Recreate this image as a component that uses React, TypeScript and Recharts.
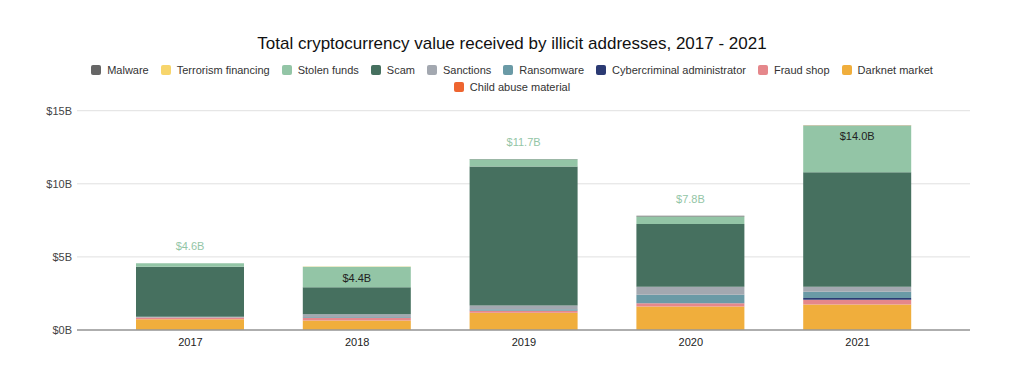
import { BarChart, Bar, XAxis, YAxis, CartesianGrid, LabelList } from 'recharts';

// stacked from bottom to top
const years = ['2017', '2018', '2019', '2020', '2021'];
const childAbuse = [0.003, 0.004, 0.005, 0.006, 0.006];
const darknet = [0.73, 0.64, 1.18, 1.6, 1.73];
const fraudShop = [0.12, 0.2, 0.13, 0.22, 0.33];
const cyberAdmin = [0.0, 0.0, 0.01, 0.01, 0.12];
const ransomware = [0.02, 0.05, 0.1, 0.57, 0.43];
const sanctions = [0.03, 0.18, 0.25, 0.55, 0.35];
const scam = [3.43, 1.85, 9.5, 4.3, 7.83];
const stolen = [0.23, 1.41, 0.51, 0.5, 3.18];
const terrorism = [0.001, 0.001, 0.001, 0.005, 0.005];
const malware = [0.005, 0.005, 0.01, 0.05, 0.02];
const totalLabels = ['$4.6B', '$4.4B', '$11.7B', '$7.8B', '$14.0B'];
const yTicks = [0, 5, 10, 15];

const series = [
    { key: 'childAbuse', name: 'Child abuse material', color: '#ee6530', values: childAbuse },
    { key: 'darknet', name: 'Darknet market', color: '#f0ae3c', values: darknet },
    { key: 'fraudShop', name: 'Fraud shop', color: '#e5878b', values: fraudShop },
    { key: 'cyberAdmin', name: 'Cybercriminal administrator', color: '#2b3a73', values: cyberAdmin },
    { key: 'ransomware', name: 'Ransomware', color: '#6a9aa6', values: ransomware },
    { key: 'sanctions', name: 'Sanctions', color: '#a3a8b0', values: sanctions },
    { key: 'scam', name: 'Scam', color: '#46705f', values: scam },
    { key: 'stolen', name: 'Stolen funds', color: '#93c5a6', values: stolen },
    { key: 'terrorism', name: 'Terrorism financing', color: '#f7d56c', values: terrorism },
    { key: 'malware', name: 'Malware', color: '#666666', values: malware },
];

const data = years.map((year, i) => {
    const row: Record<string, number | string> = { year, label: totalLabels[i] };
    series.forEach((s) => { row[s.key] = s.values[i]; });
    return row;
});

// legend lists the series top of stack first
const legendOrder = [...series].reverse();
const legendRows = [legendOrder.slice(0, 9), legendOrder.slice(9)];

const font = '"Liberation Sans", Arial, sans-serif';

const TotalLabel = (props: any) => {
    const { x, y, width, index, value } = props;
    const inside = stolen[index] >= 1;
    return (
        <text
            x={x + width / 2}
            y={inside ? y + 11 : y - 17}
            textAnchor="middle"
            dominantBaseline="central"
            fontSize={11}
            fontFamily={font}
            fill={inside ? '#222222' : '#93c5a6'}
        >
            {value}
        </text>
    );
};

export default function App() {
    return (
        <div style={{ position: 'absolute', left: 0, top: 0, width: 1024, height: 387, background: '#fff', fontFamily: font }}>
            <div style={{ position: 'absolute', top: 34, left: 0, width: 1024, textAlign: 'center', fontSize: 17, color: '#111' }}>
                Total cryptocurrency value received by illicit addresses, 2017 - 2021
            </div>
            {legendRows.map((row, r) => (
                <div
                    key={r}
                    style={{
                        position: 'absolute', top: 64 + r * 17, left: 0, width: 1024,
                        display: 'flex', justifyContent: 'center', gap: 12, fontSize: 11, color: '#333',
                    }}
                >
                    {row.map((s) => (
                        <div key={s.key} style={{ display: 'flex', alignItems: 'center', gap: 6 }}>
                            <span style={{ width: 10, height: 10, borderRadius: 2, background: s.color, display: 'inline-block' }} />
                            <span>{s.name}</span>
                        </div>
                    ))}
                </div>
            ))}
            <div style={{ position: 'absolute', left: 0, top: 0 }}>
                <BarChart
                    width={1024}
                    height={387}
                    data={data}
                    margin={{ top: 110.7, right: 54, bottom: 27, left: 17 }}
                >
                    <CartesianGrid vertical={false} stroke="#e0e0e0" />
                    <XAxis
                        dataKey="year"
                        padding={{ left: 30, right: 29 }}
                        tickLine={false}
                        tickSize={0}
                        tickMargin={8}
                        axisLine={{ stroke: '#999999', strokeWidth: 1.5 }}
                        tick={{ fontSize: 11, fill: '#222', fontFamily: font }}
                        height={30}
                    />
                    <YAxis
                        domain={[0, 15]}
                        ticks={yTicks}
                        tickFormatter={(v) => `$${v}B`}
                        axisLine={false}
                        tickLine={false}
                        tickSize={0}
                        tickMargin={5}
                        tick={{ fontSize: 11, fill: '#444', fontFamily: font }}
                        width={60}
                    />
                    {series.map((s, i) => (
                        <Bar
                            key={s.key}
                            dataKey={s.key}
                            name={s.name}
                            stackId="a"
                            fill={s.color}
                            barSize={108}
                            isAnimationActive={false}
                        >
                            {i === series.length - 1 && <LabelList dataKey="label" content={TotalLabel} />}
                        </Bar>
                    ))}
                </BarChart>
            </div>
        </div>
    );
}
